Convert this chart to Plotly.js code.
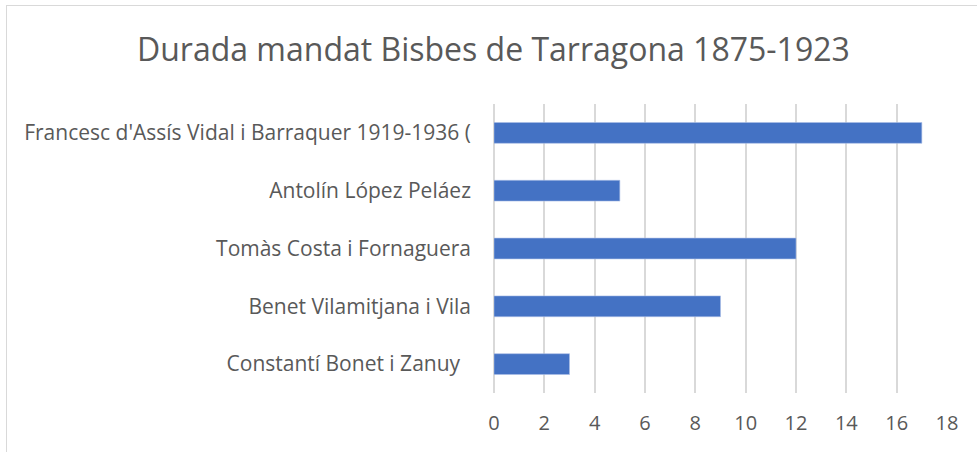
<!DOCTYPE html>
<html>
<head>
<meta charset="utf-8">
<script src="https://cdn.plot.ly/plotly-3.0.1.min.js"></script>
<style>
html,body{margin:0;padding:0;background:#fff;overflow:hidden;}
#chart{position:absolute;left:0;top:0;width:977px;height:452px;}
#frame{position:absolute;left:6px;top:5px;width:1200px;height:1200px;border:1.5px solid #d9d9d9;pointer-events:none;box-sizing:border-box;}
</style>
</head>
<body>
<div id="chart"></div>
<div id="frame"></div>
<script>
const categories = [
  "Constantí Bonet i Zanuy\u00a0\u00a0",
  "Benet Vilamitjana i Vila",
  "Tomàs Costa i Fornaguera",
  "Antolín López Peláez",
  "Francesc d'Assís Vidal i Barraquer 1919-1936 ("
];
const values = [3, 9, 12, 5, 17];
const xTicks = [0, 2, 4, 6, 8, 10, 12, 14, 16, 18];

const font = "Open Sans, sans-serif";
const data = [{
  type: "bar",
  orientation: "h",
  y: categories,
  x: values,
  width: 0.36,
  marker: {color: "#4472C4", line: {color: "#a9bde6", width: 0.6}},
  hoverinfo: "x+y"
}];

const layout = {
  width: 977,
  height: 452,
  margin: {l: 494, r: 30, t: 104, b: 59},
  paper_bgcolor: "#ffffff",
  plot_bgcolor: "#ffffff",
  showlegend: false,
  title: {
    text: "Durada mandat Bisbes de Tarragona 1875-1923",
    font: {family: font, size: 32, color: "#595959"},
    x: 0.505, xanchor: "center",
    y: 0.89, yanchor: "middle", yref: "container"
  },
  xaxis: {
    range: [0, 18],
    tickvals: xTicks,
    ticktext: xTicks.map(String),
    showgrid: true,
    gridcolor: "#d9d9d9",
    gridwidth: 2,
    zeroline: true,
    zerolinecolor: "#d9d9d9",
    zerolinewidth: 2,
    showline: false,
    ticks: "",
    ticklabelstandoff: 16,
    tickfont: {family: font, size: 20, color: "#595959"},
    fixedrange: true
  },
  yaxis: {
    type: "category",
    categoryorder: "array",
    categoryarray: categories,
    range: [-0.5, 4.5],
    showgrid: false,
    zeroline: false,
    showline: false,
    ticks: "",
    ticklabelstandoff: 22,
    tickfont: {family: font, size: 21, color: "#595959"},
    fixedrange: true
  }
};

Plotly.newPlot("chart", data, layout, {displayModeBar: false, staticPlot: true});
</script>
</body>
</html>
